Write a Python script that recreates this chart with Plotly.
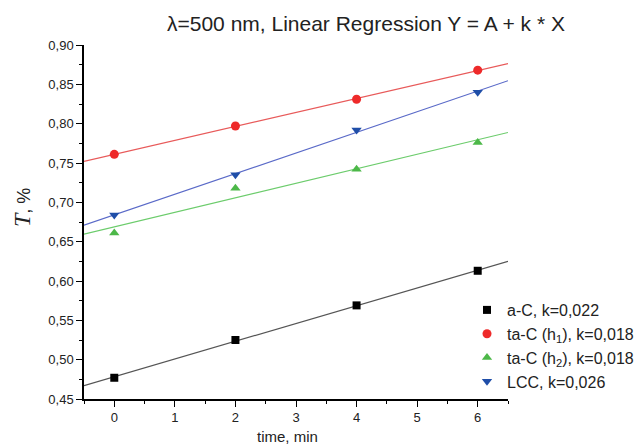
import numpy as np
import plotly.graph_objects as go

time_min = [0, 2, 4, 6]
aC = [0.477, 0.525, 0.569, 0.613]
taC_h1 = [0.761, 0.797, 0.831, 0.868]
taC_h2 = [0.661, 0.718, 0.742, 0.776]
LCC = [0.684, 0.735, 0.792, 0.840]

names = ["a-C, k=0,022", "ta-C (h<sub>1</sub>), k=0,018", "ta-C (h<sub>2</sub>), k=0,018", "LCC, k=0,026"]
series = [aC, taC_h1, taC_h2, LCC]
marker_colors = ["#000000", "#ee2a2a", "#4cb848", "#1f4ea8"]
line_colors = ["#555555", "#e85a5a", "#6ccc6c", "#5a6ac8"]
symbols = ["square", "circle", "triangle-up", "triangle-down"]
x_range = [-0.5, 6.5]

# page body has an 8px margin: shift so the plot area sits at x 84-508, y 45-399
OFF = 8
L, R, T, B = 84, 508, 45, 399
W, H = 643 - OFF, 444 - OFF
PW, PH = R - L, B - T


def px(x):
    return (x - L) / PW


def py(y):
    return (B - y) / PH


fig = go.Figure()
for ys, lc in zip(series, line_colors):
    k, a = np.polyfit(time_min, ys, 1)
    xs = np.array(x_range)
    fig.add_trace(go.Scatter(x=xs, y=a + k * xs, mode="lines",
                             line=dict(color=lc, width=1.2), showlegend=False,
                             hoverinfo="skip"))
for ys, name, mc, sym in zip(series, names, marker_colors, symbols):
    fig.add_trace(go.Scatter(x=time_min, y=ys, mode="markers", name=name,
                             marker=dict(color=mc, symbol=sym, size=9 if sym != "square" else 8)))

axis_common = dict(showgrid=False, zeroline=False, showline=True, linecolor="black",
                   linewidth=1.5, ticks="outside", ticklen=6, tickwidth=1.3,
                   tickcolor="black", mirror=False, automargin=False,
                   tickfont=dict(family="Liberation Sans, Arial", size=13, color="#222"))

fig.update_xaxes(range=x_range, dtick=1, tick0=0,
                 minor=dict(ticks="outside", ticklen=3, dtick=0.5, tick0=-0.5, tickcolor="black"),
                 **axis_common)
fig.update_yaxes(range=[0.45, 0.90], dtick=0.05, tick0=0.45, tickformat=".2f",
                 minor=dict(ticks="outside", ticklen=3, dtick=0.025, tick0=0.45, tickcolor="black"),
                 **axis_common)

fig.add_annotation(text="time, min", xref="paper", yref="paper", x=px(287), y=py(436),
                   xanchor="center", yanchor="middle", showarrow=False,
                   font=dict(family="Liberation Sans, Arial", size=15, color="#222"))

fig.add_annotation(text="<span style=\"font-family:'Liberation Serif'; font-size:24px\"><i>T</i></span>, %",
                   xref="paper", yref="paper", x=px(22), y=py(208),
                   xanchor="center", yanchor="middle", textangle=-90, showarrow=False,
                   font=dict(family="Liberation Sans, Arial", size=18, color="#222"))

fig.add_annotation(text="λ=500 nm, Linear Regression Y = A + k * X", xref="paper", yref="paper",
                   x=px(366), y=py(24), xanchor="center", yanchor="middle",
                   showarrow=False, font=dict(family="Liberation Sans, Arial", size=21, color="#222"))

fig.update_layout(
    width=W, height=H,
    margin=dict(l=L - OFF, r=W - (R - OFF), t=T - OFF, b=H - (B - OFF), autoexpand=False),
    plot_bgcolor="white", paper_bgcolor="white",
    separators=", ",
    legend=dict(x=px(467), y=py(293), xanchor="left", yanchor="top",
                bgcolor="rgba(0,0,0,0)", font=dict(family="Liberation Sans, Arial", size=16, color="#222"),
                tracegroupgap=0, itemwidth=30),
)

fig.write_html("out.html")
